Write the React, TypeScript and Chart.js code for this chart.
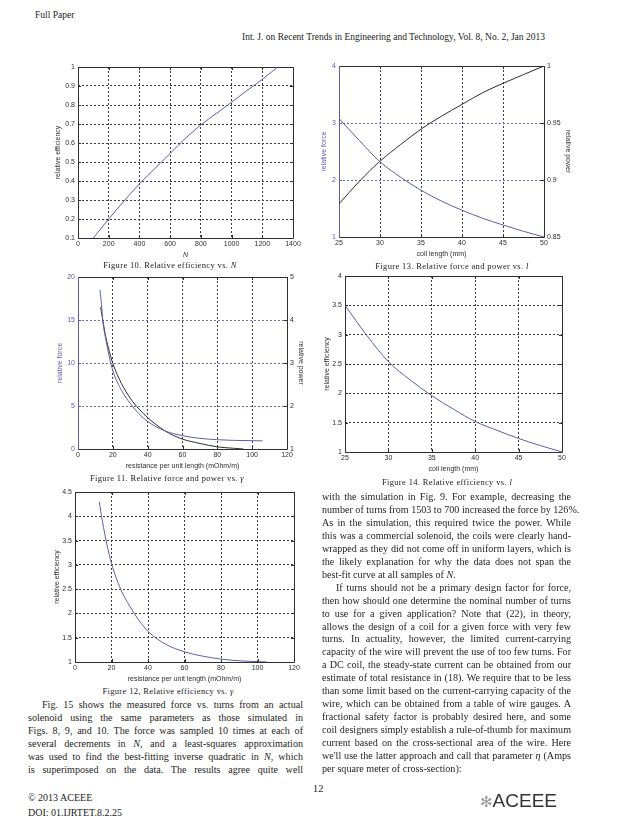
import React, { useEffect, useRef } from "react";
import { Chart, registerables } from "chart.js";

Chart.register(...registerables);

// ---------- Figure 10: relative efficiency vs N ----------
const fig10N = [100, 200, 300, 400, 500, 600, 700, 800, 900, 1000, 1100, 1200, 1300];
const fig10Eff = [0.1, 0.2, 0.295, 0.385, 0.465, 0.545, 0.625, 0.695, 0.755, 0.815, 0.876, 0.935, 1.0];

// ---------- Figure 13: relative force and power vs l ----------
const fig13Len = [25, 27.5, 30, 32.5, 35, 37.5, 40, 42.5, 45, 47.5, 50];
const fig13Force = [3.08, 2.69, 2.32, 2.05, 1.82, 1.63, 1.47, 1.33, 1.21, 1.1, 1.0];
const fig13Power = [0.879, 0.899, 0.9165, 0.931, 0.9446, 0.956, 0.9663, 0.9765, 0.9848, 0.9925, 1.0];

// ---------- Figure 11: relative force and power vs gamma ----------
const fig11GammaF = [12.6, 13.5, 14.2, 16, 18, 20, 25, 30, 35, 40, 50, 60, 70, 80, 90, 100, 106];
const fig11Force = [18.5, 16.8, 15.0, 12.7, 10.7, 9.1, 6.8, 5.3, 4.1, 3.2, 2.1, 1.55, 1.24, 1.08, 1.0, 0.97, 0.95];
const fig11GammaP = [13, 14.2, 16, 18, 20, 25, 30, 35, 40, 50, 60, 70, 80, 90, 95];
const fig11Power = [4.3, 4.0, 3.6, 3.27, 2.99, 2.52, 2.18, 1.93, 1.73, 1.42, 1.23, 1.13, 1.05, 1.015, 1.0];

// ---------- Figure 14: relative efficiency vs l ----------
const fig14Len = [25, 27.5, 30, 32.5, 35, 37.5, 40, 42.5, 45, 47.5, 50];
const fig14Eff = [3.5, 2.99, 2.54, 2.23, 1.96, 1.73, 1.52, 1.37, 1.23, 1.11, 1.0];

// ---------- Figure 12: relative efficiency vs gamma ----------
const fig12Gamma = [13.3, 15, 17.5, 20, 25, 30, 35, 40, 50, 60, 70, 80, 90, 100, 105];
const fig12Eff = [4.3, 3.9, 3.42, 3.03, 2.5, 2.15, 1.86, 1.63, 1.36, 1.21, 1.12, 1.06, 1.025, 1.008, 1.0];

// ---------- Text ----------
const headerLeft = "Full Paper";
const headerRight = "Int. J. on Recent Trends in Engineering and Technology, Vol. 8, No. 2, Jan 2013";
const captions = [
  "Figure 10. Relative efficiency vs. ",
  "Figure 13. Relative force and power vs. ",
  "Figure 11.  Relative force and power vs. ",
  "Figure 14. Relative efficiency vs. ",
  "Figure 12, Relative efficiency vs. ",
];

type Line = [React.ReactNode, boolean, number?];

const leftLines: Line[] = [
  ["Fig. 15 shows the measured force vs. turns from an actual", true, 14],
  ["solenoid using the same parameters as those simulated in", true],
  ["Figs. 8, 9, and 10.  The force was sampled 10 times at each of", true],
  [<>several decrements in <i>N</i>, and a least-squares approximation</>, true],
  [<>was used to find the best-fitting inverse quadratic in <i>N</i>, which</>, true],
  ["is superimposed on the data.  The results agree quite well", true],
];

const rightLines: Line[] = [
  ["with the simulation in Fig. 9.  For example, decreasing the", true],
  ["number of turns from 1503 to 700 increased the force by 126%.", true],
  ["As in the simulation, this required twice the power.  While", true],
  ["this was a commercial solenoid, the coils were clearly hand-", true],
  ["wrapped as they did not come off in uniform layers, which is", true],
  ["the likely explanation for why the data does not span the", true],
  [<>best-fit curve at all samples of <i>N</i>.</>, false],
  ["If turns should not be a primary design factor for force,", true, 14],
  ["then how should one determine the nominal number of turns", true],
  ["to use for a given application?  Note that (22), in theory,", true],
  ["allows the design of a coil for a given force with very few", true],
  ["turns.  In actuality, however, the limited current-carrying", true],
  ["capacity of the wire will prevent the use of too few turns.  For", true],
  ["a DC coil, the steady-state current can be obtained from our", true],
  ["estimate of total resistance in (18).  We require that to be less", true],
  ["than some limit based on the current-carrying capacity of the", true],
  ["wire, which can be obtained from a table of wire gauges.  A", true],
  ["fractional safety factor is probably desired here, and some", true],
  ["coil designers simply establish a rule-of-thumb for maximum", true],
  ["current based on the cross-sectional area of the wire.  Here", true],
  [<>we'll use the latter approach and call that parameter <i>η</i> (Amps</>, true],
  ["per square meter of cross-section):", false],
];

// ---------- Styles ----------
const BLUE = "#5d5eab";
const DARK = "#2e2e2e";
const GRID_DARK = "#3a3a3a";
const GRID_BLUE = "#6a6bb4";
const SANS = "'Liberation Sans', Arial, sans-serif";
const SERIF = "'Liberation Serif', 'Times New Roman', serif";

type Axis = {
  min: number;
  max: number;
  step: number;
  title: string;
  color?: string;
  grid?: string;
  italic?: boolean;
};

type Series = { xs: number[]; ys: number[]; color: string; axis: "y" | "y2" };

type Spec = {
  pl: number;
  pt: number;
  pw: number;
  ph: number;
  L: number;
  R: number;
  T: number;
  B: number;
  x: Axis;
  y: Axis;
  y2?: Axis;
  series: Series[];
  leftColor?: string;
};

const fmt = (v: number | string) => String(Number(Number(v).toFixed(6)));

const framePlugin = {
  id: "matlabFrame",
  beforeDatasetsDraw(chart: any, _args: any, opts: any) {
    const { ctx, chartArea: a } = chart;
    const tl = 3;
    ctx.save();
    ctx.lineWidth = 1;
    ctx.strokeStyle = DARK;
    const xs = chart.scales.x;
    xs.ticks.forEach((t: any) => {
      const px = Math.round(xs.getPixelForValue(t.value)) + 0.5;
      ctx.beginPath();
      ctx.moveTo(px, a.bottom);
      ctx.lineTo(px, a.bottom - tl);
      ctx.moveTo(px, a.top);
      ctx.lineTo(px, a.top + tl);
      ctx.stroke();
    });
    const ys = chart.scales.y;
    const hasY2 = !!chart.scales.y2;
    ys.ticks.forEach((t: any) => {
      const py = Math.round(ys.getPixelForValue(t.value)) + 0.5;
      ctx.beginPath();
      ctx.strokeStyle = opts.leftColor || DARK;
      ctx.moveTo(a.left, py);
      ctx.lineTo(a.left + tl, py);
      ctx.stroke();
      if (!hasY2) {
        ctx.beginPath();
        ctx.strokeStyle = DARK;
        ctx.moveTo(a.right, py);
        ctx.lineTo(a.right - tl, py);
        ctx.stroke();
      }
    });
    if (hasY2) {
      const y2 = chart.scales.y2;
      ctx.strokeStyle = DARK;
      y2.ticks.forEach((t: any) => {
        const py = Math.round(y2.getPixelForValue(t.value)) + 0.5;
        ctx.beginPath();
        ctx.moveTo(a.right, py);
        ctx.lineTo(a.right - tl, py);
        ctx.stroke();
      });
    }
    const l = Math.round(a.left) + 0.5;
    const r = Math.round(a.right) + 0.5;
    const t = Math.round(a.top) + 0.5;
    const b = Math.round(a.bottom) + 0.5;
    ctx.strokeStyle = DARK;
    ctx.beginPath();
    ctx.moveTo(l, t);
    ctx.lineTo(r, t);
    ctx.lineTo(r, b);
    ctx.lineTo(l, b);
    ctx.stroke();
    ctx.strokeStyle = opts.leftColor || DARK;
    ctx.beginPath();
    ctx.moveTo(l, t);
    ctx.lineTo(l, b);
    ctx.stroke();
    ctx.restore();
  },
};

function gridColor(ax: Axis, fallback: string) {
  return (c: any) => {
    const v = c.tick ? c.tick.value : NaN;
    if (Math.abs(v - ax.min) < 1e-9 || Math.abs(v - ax.max) < 1e-9) return "rgba(0,0,0,0)";
    return ax.grid || fallback;
  };
}

function buildConfig(s: Spec): any {
  const tickFont = { family: SANS, size: 7 };
  const titleFont = { family: SANS, size: 7 };
  const scales: any = {
    x: {
      type: "linear",
      min: s.x.min,
      max: s.x.max,
      ticks: { stepSize: s.x.step, font: tickFont, color: DARK, padding: 2, maxRotation: 0, autoSkip: false, callback: fmt },
      grid: { color: gridColor(s.x, GRID_DARK), drawTicks: false, lineWidth: 1 },
      border: { display: false, dash: [2, 2] },
      title: {
        display: true,
        text: s.x.title,
        font: { ...titleFont, style: s.x.italic ? "italic" : "normal" },
        color: DARK,
        padding: { top: 1, bottom: 0 },
      },
      afterFit: (sc: any) => {
        sc.height = s.B;
        sc.paddingLeft = 0;
        sc.paddingRight = 0;
      },
    },
    y: {
      type: "linear",
      position: "left",
      min: s.y.min,
      max: s.y.max,
      ticks: { stepSize: s.y.step, font: tickFont, color: s.y.color || DARK, padding: 3, autoSkip: false, callback: fmt },
      grid: { color: gridColor(s.y, GRID_DARK), drawTicks: false, lineWidth: 1 },
      border: { display: false, dash: [2, 2] },
      title: { display: true, text: s.y.title, font: titleFont, color: s.y.color || DARK, padding: { top: 0, bottom: 0 } },
      afterFit: (sc: any) => {
        sc.width = s.L;
        sc.paddingTop = 0;
        sc.paddingBottom = 0;
      },
    },
  };
  if (s.y2) {
    scales.y2 = {
      type: "linear",
      position: "right",
      min: s.y2.min,
      max: s.y2.max,
      ticks: { stepSize: s.y2.step, font: tickFont, color: DARK, padding: 3, autoSkip: false, callback: fmt },
      grid: { display: false, drawTicks: false },
      border: { display: false },
      title: { display: true, text: s.y2.title, font: titleFont, color: DARK, padding: { top: 0, bottom: 0 } },
      afterFit: (sc: any) => {
        sc.width = s.R;
        sc.paddingTop = 0;
        sc.paddingBottom = 0;
      },
    };
  }
  return {
    type: "line",
    data: {
      datasets: s.series.map((sr) => ({
        data: sr.xs.map((x, i) => ({ x, y: sr.ys[i] })),
        borderColor: sr.color,
        borderWidth: 1,
        pointRadius: 0,
        fill: false,
        cubicInterpolationMode: "monotone",
        yAxisID: sr.axis,
      })),
    },
    options: {
      responsive: false,
      animation: false,
      layout: { padding: { top: s.T, right: s.y2 ? 0 : s.R, left: 0, bottom: 0 } },
      plugins: {
        legend: { display: false },
        tooltip: { enabled: false },
        matlabFrame: { leftColor: s.leftColor },
      },
      scales,
    },
    plugins: [framePlugin],
  };
}

function Plot({ spec }: { spec: Spec }) {
  const ref = useRef<HTMLCanvasElement>(null);
  useEffect(() => {
    const chart = new Chart(ref.current as HTMLCanvasElement, buildConfig(spec));
    return () => chart.destroy();
  }, []);
  const w = spec.L + spec.pw + spec.R;
  const h = spec.T + spec.ph + spec.B;
  return (
    <canvas
      ref={ref}
      width={w}
      height={h}
      style={{ position: "absolute", left: spec.pl - spec.L, top: spec.pt - spec.T, width: w, height: h }}
    />
  );
}

const spec10: Spec = {
  pl: 78, pt: 67, pw: 215, ph: 171, L: 24, R: 10, T: 8, B: 21,
  x: { min: 0, max: 1400, step: 200, title: "N", italic: true },
  y: { min: 0.1, max: 1, step: 0.1, title: "relative efficiency" },
  series: [{ xs: fig10N, ys: fig10Eff, color: BLUE, axis: "y" }],
};

const spec13: Spec = {
  pl: 339, pt: 66, pw: 205, ph: 171, L: 19, R: 28, T: 8, B: 21,
  x: { min: 25, max: 50, step: 5, title: "coil length (mm)" },
  y: { min: 1, max: 4, step: 1, title: "relative force", color: BLUE, grid: GRID_BLUE },
  y2: { min: 0.85, max: 1, step: 0.05, title: "relative power" },
  series: [
    { xs: fig13Len, ys: fig13Force, color: BLUE, axis: "y" },
    { xs: fig13Len, ys: fig13Power, color: DARK, axis: "y2" },
  ],
  leftColor: BLUE,
};

const spec11: Spec = {
  pl: 78, pt: 277, pw: 209, ph: 172, L: 22, R: 18, T: 8, B: 21,
  x: { min: 0, max: 120, step: 20, title: "resistance per unit length (mOhm/m)" },
  y: { min: 0, max: 20, step: 5, title: "relative force", color: BLUE, grid: GRID_BLUE },
  y2: { min: 1, max: 5, step: 1, title: "relative power" },
  series: [
    { xs: fig11GammaF, ys: fig11Force, color: BLUE, axis: "y" },
    { xs: fig11GammaP, ys: fig11Power, color: DARK, axis: "y2" },
  ],
  leftColor: BLUE,
};

const spec14: Spec = {
  pl: 345, pt: 276, pw: 217, ph: 176, L: 22, R: 10, T: 8, B: 21,
  x: { min: 25, max: 50, step: 5, title: "coil length (mm)" },
  y: { min: 1, max: 4, step: 0.5, title: "relative efficiency" },
  series: [{ xs: fig14Len, ys: fig14Eff, color: BLUE, axis: "y" }],
};

const spec12: Spec = {
  pl: 75, pt: 492, pw: 219, ph: 170, L: 22, R: 10, T: 8, B: 21,
  x: { min: 0, max: 120, step: 20, title: "resistance per unit length (mOhm/m)" },
  y: { min: 1, max: 4.5, step: 0.5, title: "relative efficiency" },
  series: [{ xs: fig12Gamma, ys: fig12Eff, color: BLUE, axis: "y" }],
};

const TEXT_SIZE = 10.1;
const LINE_STEP = 12.95;

function TextBlock({ x, w, y0, lines }: { x: number; w: number; y0: number; lines: Line[] }) {
  return (
    <>
      {lines.map(([t, just, indent], i) => (
        <div
          key={i}
          style={{
            position: "absolute",
            left: x + (indent || 0),
            top: y0 + i * LINE_STEP - 7,
            width: w - (indent || 0),
            height: 14,
            lineHeight: "14px",
            fontFamily: SERIF,
            fontSize: TEXT_SIZE,
            color: "#1e1e1e",
            whiteSpace: "nowrap",
            textAlign: just ? "justify" : "left",
            textAlignLast: just ? "justify" : "left",
          } as React.CSSProperties}
        >
          {t}
        </div>
      ))}
    </>
  );
}

function Caption({ cx, cy, text, sym }: { cx: number; cy: number; text: string; sym: string }) {
  return (
    <div
      style={{
        position: "absolute",
        left: cx - 150,
        width: 300,
        top: cy - 7,
        height: 14,
        lineHeight: "14px",
        textAlign: "center",
        fontFamily: SERIF,
        fontSize: 8.5,
        letterSpacing: 0.35,
        color: "#222",
        whiteSpace: "nowrap",
      }}
    >
      {text}
      <i>{sym}</i>
    </div>
  );
}

export default function App() {
  return (
    <div
      style={{
        position: "absolute",
        left: 0,
        top: 0,
        width: 638,
        height: 826,
        background: "#fff",
        overflow: "hidden",
      }}
    >
      <div style={{ position: "absolute", left: 35, top: 10, fontFamily: SERIF, fontSize: 9.5, color: "#222" }}>
        {headerLeft}
      </div>
      <div style={{ position: "absolute", left: 242, top: 32, fontFamily: SERIF, fontSize: 9.5, color: "#222", whiteSpace: "nowrap" }}>
        {headerRight}
      </div>

      <Plot spec={spec10} />
      <Plot spec={spec13} />
      <Plot spec={spec11} />
      <Plot spec={spec14} />
      <Plot spec={spec12} />

      <Caption cx={170} cy={265} text={captions[0]} sym="N" />
      <Caption cx={452} cy={266} text={captions[1]} sym="l" />
      <Caption cx={167} cy={478} text={captions[2]} sym="γ" />
      <Caption cx={447} cy={482} text={captions[3]} sym="l" />
      <Caption cx={168} cy={691} text={captions[4]} sym="γ" />

      <TextBlock x={28} w={275} y0={705} lines={leftLines} />
      <TextBlock x={322} w={249} y0={497} lines={rightLines} />

      <div style={{ position: "absolute", left: 28, top: 790, fontFamily: SERIF, fontSize: 10, color: "#222", lineHeight: "15px" }}>
        © 2013 ACEEE
        <br />
        DOI: 01.IJRTET.8.2.25
      </div>
      <div style={{ position: "absolute", left: 313, top: 783, fontFamily: SERIF, fontSize: 10.5, color: "#222" }}>12</div>
      <div
        style={{
          position: "absolute",
          left: 480,
          top: 790,
          fontFamily: SANS,
          fontSize: 19,
          color: "#333",
          whiteSpace: "nowrap",
          lineHeight: "22px",
        }}
      >
        <span style={{ color: "#999", fontFamily: "'DejaVu Sans', sans-serif", fontSize: 15 }}>✻</span>ACEEE
      </div>
    </div>
  );
}
